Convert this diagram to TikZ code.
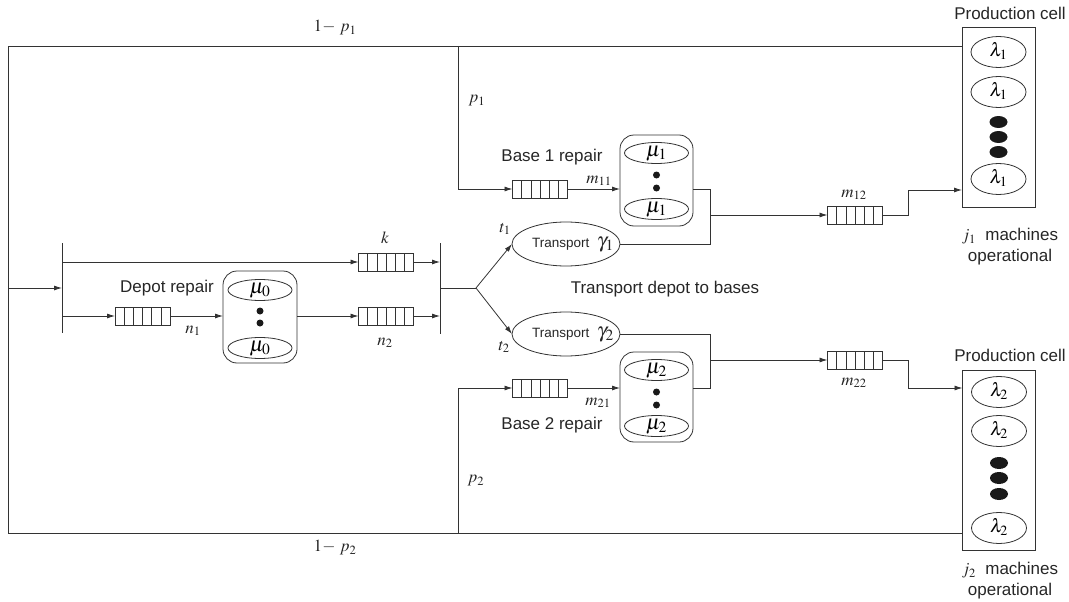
\documentclass[tikz,border=0pt]{standalone}
\usepackage{mathptmx}
\usepackage{fontspec}
\setmainfont{Liberation Sans}
\usetikzlibrary{arrows.meta,shapes.geometric,calc}

\begin{document}
\begin{tikzpicture}[x=1pt,y=-1pt,
  line/.style={draw=black!80, line width=0.8pt},
  arr/.style={line, -{Latex[length=8pt,width=5pt]}},
  queue/.style={draw=black!80, line width=0.8pt, minimum width=55pt, minimum height=18pt,
    inner sep=0pt, outer sep=0pt,
    path picture={\foreach \i in {1,...,5}{
      \draw[black!80, line width=0.6pt]
        ($(path picture bounding box.south west)!{\i/6}!(path picture bounding box.south east)$) --
        ($(path picture bounding box.north west)!{\i/6}!(path picture bounding box.north east)$);}}},
  server/.style={draw=black!80, line width=0.8pt, rectangle, rounded corners=14pt,
    minimum width=73pt, minimum height=91pt, inner sep=0pt, outer sep=0pt},
  srv/.style={draw=black!80, line width=0.8pt, ellipse, minimum width=64pt,
    minimum height=21pt, inner sep=0pt, text height=10pt, text depth=4pt,
    font=\fontsize{21}{22}\selectfont},
  sdot/.style={fill=black!90, circle, minimum size=7pt, inner sep=0pt},
  cell/.style={draw=black!80, line width=0.8pt, rectangle, minimum width=73pt,
    minimum height=180pt, inner sep=0pt, outer sep=0pt},
  mach/.style={draw=black!80, line width=0.8pt, ellipse, minimum width=55pt,
    minimum height=31pt, inner sep=0pt, text height=12pt, text depth=3pt,
    font=\fontsize{19}{20}\selectfont},
  mdot/.style={fill=black!90, ellipse, minimum width=18pt, minimum height=12pt, inner sep=0pt},
  trans/.style={draw=black!80, line width=0.8pt, ellipse, minimum width=108pt,
    minimum height=44pt, inner sep=0pt, outer sep=0pt},
  ttxt/.style={font=\fontsize{13.5}{16}\selectfont, text=black!85, inner sep=0pt},
  txt/.style={font=\fontsize{17}{21}\selectfont, text=black!85, inner sep=0pt},
  mth/.style={font=\fontsize{17}{20}\selectfont, text=black!85, inner sep=0pt}
]
\useasboundingbox (0,0) rectangle (1069,602);

% ---------- production cells ----------
\node[cell] (cellA) at (998.5,117.5) {};
\node[mach] (a1) at (998.5,52) {$\lambda_1$};
\node[mach] (a2) at (998.5,92) {$\lambda_1$};
\node[mdot] (ad1) at (998.5,122) {};
\node[mdot] (ad2) at (998.5,137) {};
\node[mdot] (ad3) at (998.5,152) {};
\node[mach] (a3) at (998.5,179) {$\lambda_1$};

\node[cell] (cellB) at (999,460) {};
\node[mach] (b1) at (999,392) {$\lambda_2$};
\node[mach] (b2) at (999,431) {$\lambda_2$};
\node[mdot] (bd1) at (999,463) {};
\node[mdot] (bd2) at (999,478) {};
\node[mdot] (bd3) at (999,494) {};
\node[mach] (b3) at (999,528) {$\lambda_2$};

\node[txt] (pcA) at (1010,13) {Production cell};
\node[txt] (pcB) at (1010,355) {Production cell};
\node[txt, align=center] (opA) at (1010,247) {$j_1$\ \ machines\\operational};
\node[txt, align=center] (opB) at (1010,581) {$j_2$\ \ machines\\operational};

% ---------- depot ----------
\node[queue] (qn1) at (142.5,316) {};
\node[server] (mu0) at (260,317) [minimum height=92pt, minimum width=74pt] {};
\node[srv] (m0a) at (260,290) {$\mu_0$};
\node[sdot] (m0d1) at (260,311) {};
\node[sdot] (m0d2) at (260,323) {};
\node[srv] (m0b) at (260,348) {$\mu_0$};
\node[queue] (qk) at (386,262) {};
\node[queue] (qn2) at (386,316) {};
\node[txt] (dep) at (167,288) {Depot repair};
\node[mth] (lk) at (385,238) {$k$};
\node[mth] (ln1) at (193,331) {$n_1$};
\node[mth] (ln2) at (385,343) {$n_2$};

% ---------- transport ----------
\node[trans] (g1) at (566,244) {};
\node[trans] (g2) at (566,334) {};
\node[ttxt] (g1t) at (573,245) {Transport\ \ {\fontsize{21}{22}\selectfont$\gamma_1$}};
\node[ttxt] (g2t) at (573,335) {Transport\ \ {\fontsize{21}{22}\selectfont$\gamma_2$}};
\node[mth] (lt1) at (505,229) {$t_1$};
\node[mth] (lt2) at (504,347) {$t_2$};
\node[txt] (tdb) at (665,289) {Transport depot to bases};

% ---------- bases ----------
\node[queue] (qb1) at (540,189) {};
\node[server] (mu1) at (656.5,180.5) {};
\node[srv] (m1a) at (656.5,153) {$\mu_1$};
\node[sdot] (m1d1) at (656.5,175) {};
\node[sdot] (m1d2) at (656.5,188) {};
\node[srv] (m1b) at (656.5,209) {$\mu_1$};
\node[txt] (b1r) at (552,157) {Base 1 repair};
\node[mth] (lm11) at (599,181) {$m_{11}$};

\node[queue] (qb2) at (540,388) {};
\node[server] (mu2) at (656.5,397) [minimum height=90pt] {};
\node[srv] (m2a) at (656.5,370) {$\mu_2$};
\node[sdot] (m2d1) at (656.5,392) {};
\node[sdot] (m2d2) at (656.5,405) {};
\node[srv] (m2b) at (656.5,426) {$\mu_2$};
\node[txt] (b2r) at (552,425) {Base 2 repair};
\node[mth] (lm21) at (598,403) {$m_{21}$};

\node[queue] (qm12) at (855,215) {};
\node[queue] (qm22) at (855,360) {};
\node[mth] (lm12) at (854,195) {$m_{12}$};
\node[mth] (lm22) at (854,383) {$m_{22}$};

% ---------- routing labels ----------
\node[mth] (lp1) at (477,101) {$p_1$};
\node[mth] (lp2) at (476,481) {$p_2$};
\node[mth] (lq1) at (335,28) {$1\!-\,p_1$};
\node[mth] (lq2) at (335,548) {$1\!-\,p_2$};

% ---------- connectors ----------
\coordinate (tl) at (8,46);
\coordinate (bl) at (8,533);
\coordinate (s1) at (458,46);
\coordinate (s2) at (458,533);
\draw[line] (cellA.west |- tl) -- (tl) -- (bl) -- (cellB.west |- bl);
\draw[arr] (s1) |- (qb1.west);
\draw[arr] (s2) |- (qb2.west);

\coordinate (lin) at (8,288);
\coordinate (dtop) at (62,243);
\coordinate (dbot) at (62,333);
\draw[line] (dtop) -- (dbot);
\draw[arr] (lin) -- (lin -| dtop);
\draw[arr] (qk.west -| dtop) -- (qk.west);
\draw[arr] (qn1.west -| dtop) -- (qn1.west);
\draw[arr] (qn1.east) -- (qn1.east -| mu0.west);
\draw[arr] (qn2.west -| mu0.east) -- (qn2.west);

\coordinate (rtop) at (440,243);
\coordinate (rbot) at (440,334);
\draw[line] (rtop) -- (rbot);
\draw[arr] (qk.east) -- (qk.east -| rtop);
\draw[arr] (qn2.east) -- (qn2.east -| rtop);
\coordinate (fork) at (476,288);
\draw[line] (fork -| rtop) -- (fork);
\draw[arr] (fork) -- (g1.west);
\draw[arr] (fork) -- (g2.west);

\draw[arr] (qb1.east) -- (qb1.east -| mu1.west);
\draw[arr] (qb2.east) -- (qb2.east -| mu2.west);

\coordinate (j1) at (710,215);
\coordinate (j2) at (710,360);
\draw[line] (qb1.east -| mu1.east) -- (qb1.east -| j1) -- (g1.east -| j1) -- (g1.east);
\draw[arr] (j1) -- (qm12.west);
\draw[line] (g2.east) -- (g2.east -| j2) -- (qb2.east -| j2) -- (qb2.east -| mu2.east);
\draw[arr] (j2) -- (qm22.west);

\coordinate (k1) at (908,190);
\coordinate (k2) at (908,388);
\draw[arr] (qm12.east) -- (qm12.east -| k1) -- (k1) -- (k1 -| cellA.west);
\draw[arr] (qm22.east) -- (qm22.east -| k2) -- (k2) -- (k2 -| cellB.west);
\end{tikzpicture}
\end{document}
